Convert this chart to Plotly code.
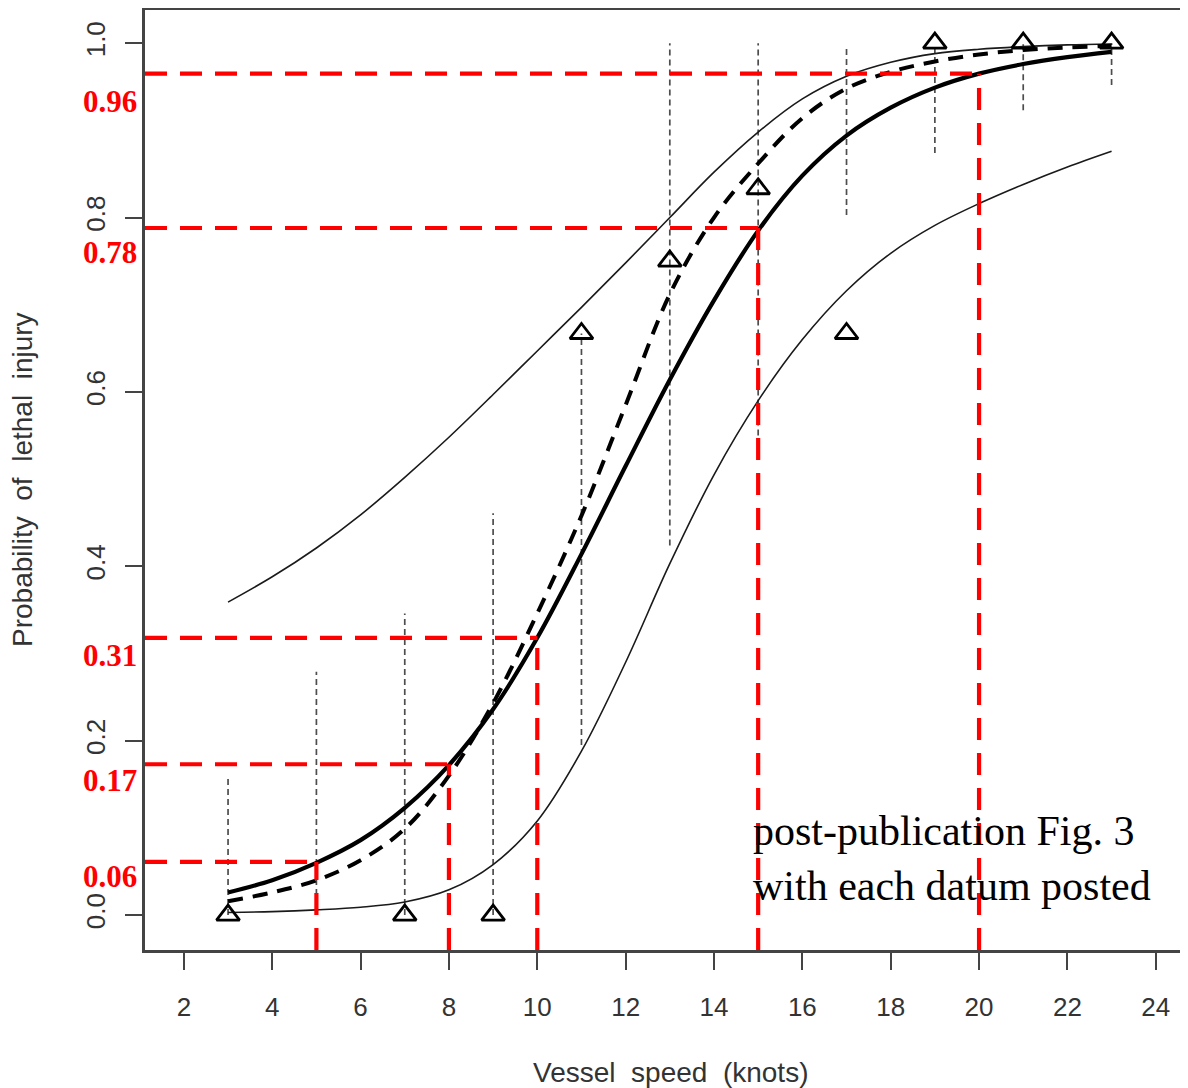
import plotly.graph_objects as go

# ---------------- data ----------------
speed = [3, 4, 5, 6, 7, 8, 9, 10, 11, 12, 13, 14, 15, 16, 17, 18, 19, 20, 21, 22, 23]
fit_solid = [0.026, 0.040, 0.060, 0.086, 0.123, 0.172, 0.236, 0.318, 0.414, 0.515, 0.614,
             0.705, 0.785, 0.848, 0.894, 0.926, 0.949, 0.965, 0.976, 0.984, 0.990]
fit_dashed = [0.016, 0.026, 0.040, 0.063, 0.099, 0.160, 0.243, 0.346, 0.458, 0.585, 0.712,
              0.800, 0.862, 0.914, 0.948, 0.967, 0.979, 0.987, 0.992, 0.995, 0.997]
band_upper = [0.359, 0.388, 0.421, 0.459, 0.502, 0.548, 0.597, 0.647, 0.697, 0.748, 0.800,
              0.852, 0.898, 0.936, 0.962, 0.978, 0.988, 0.993, 0.996, 0.998, 0.999]
band_lower = [0.003, 0.004, 0.006, 0.009, 0.015, 0.029, 0.058, 0.108, 0.188, 0.290, 0.403,
              0.505, 0.590, 0.660, 0.716, 0.759, 0.791, 0.816, 0.838, 0.858, 0.876]

obs_speed = [3, 7, 9, 11, 13, 15, 17, 19, 21, 23]
obs_prop = [0.0, 0.0, 0.0, 0.667, 0.75, 0.833, 0.667, 1.0, 1.0, 1.0]

ci_speed = [3, 5, 7, 9, 11, 13, 15, 17, 19, 21, 23]
ci_low = [0.0, 0.0, 0.0, 0.0, 0.195, 0.424, 0.55, 0.803, 0.874, 0.923, 0.952]
ci_high = [0.158, 0.279, 0.346, 0.461, 0.667, 1.0, 1.0, 0.994, 1.0, 1.0, 1.0]

ref_speed = [5, 8, 10, 15, 20]
ref_prob = [0.061, 0.173, 0.318, 0.788, 0.965]
ref_labels = ["0.06", "0.17", "0.31", "0.78", "0.96"]

x_ticks = [2, 4, 6, 8, 10, 12, 14, 16, 18, 20, 22, 24]
y_ticks = [0.0, 0.2, 0.4, 0.6, 0.8, 1.0]
y_ticktext = ["0.0", "0.2", "0.4", "0.6", "0.8", "1.0"]

X_RANGE = [1.12, 24.73]
Y_RANGE = [-0.04, 1.038]

# label placement below each red line (pixels), layout only
label_shift = [-15, -16, -18, -24, -28]

# page geometry (the page body adds an 8px offset)
PW, PH = 1180, 1080
PLOT_L, PLOT_T, PLOT_B = 145, 10, 950      # in screen pixels
PLOT_W, PLOT_H = 1043, PLOT_B - PLOT_T


def px_x(X):
    return (X - PLOT_L) / PLOT_W


def px_y(Y):
    return (PLOT_B - Y) / PLOT_H


fig = go.Figure()

# per-datum interval lines (grey dotted)
cx, cy = [], []
for s, lo, hi in zip(ci_speed, ci_low, ci_high):
    cx += [s, s, None]
    cy += [lo, hi, None]
fig.add_trace(go.Scatter(x=cx, y=cy, mode="lines",
                         line=dict(color="#4d4d4d", width=1.7, dash="6px,4px"),
                         hoverinfo="skip"))

# confidence band curves
fig.add_trace(go.Scatter(x=speed, y=band_upper, mode="lines", line_shape="spline",
                         line=dict(color="#1a1a1a", width=1.6)))
fig.add_trace(go.Scatter(x=speed, y=band_lower, mode="lines", line_shape="spline",
                         line=dict(color="#1a1a1a", width=1.6)))
# dashed fit
fig.add_trace(go.Scatter(x=speed, y=fit_dashed, mode="lines", line_shape="spline",
                         line=dict(color="black", width=4, dash="15px,10px")))
# solid fit
fig.add_trace(go.Scatter(x=speed, y=fit_solid, mode="lines", line_shape="spline",
                         line=dict(color="black", width=4.2)))

# observed data
fig.add_trace(go.Scatter(x=obs_speed, y=obs_prop, mode="markers",
                         marker=dict(symbol="triangle-up-open", size=20,
                                     color="black", line=dict(color="black", width=2.8))))

# red reference lines
rx, ry = [], []
for s, p in zip(ref_speed, ref_prob):
    rx += [X_RANGE[0], s, None, s, s, None]
    ry += [p, p, None, Y_RANGE[0], p, None]
fig.add_trace(go.Scatter(x=rx, y=ry, mode="lines",
                         line=dict(color="#ff0000", width=4.2, dash="22px,13px"),
                         cliponaxis=False))

annotations = []
for p, lab, sh in zip(ref_prob, ref_labels, label_shift):
    annotations.append(dict(x=px_x(139), xref="paper", y=p, yref="y", yshift=sh,
                            text="<b>" + lab + "</b>", showarrow=False,
                            xanchor="right", yanchor="middle",
                            font=dict(family="Liberation Serif", size=31, color="#ff0000")))

annotations.append(dict(x=px_x(751), xref="paper", y=0.065, yref="y",
                        text="post-publication Fig. 3<br>with each datum posted",
                        showarrow=False, xanchor="left", yanchor="middle", align="left",
                        font=dict(family="Liberation Serif", size=42, color="black")))

annotations.append(dict(x=px_x(670), xref="paper", y=px_y(1072), yref="paper",
                        text="Vessel\u00a0\u00a0speed\u00a0\u00a0(knots)", showarrow=False,
                        xanchor="center", yanchor="middle",
                        font=dict(family="Liberation Sans", size=28, color="#333333")))
annotations.append(dict(x=px_x(22), xref="paper", y=px_y(480), yref="paper",
                        text="Probability\u00a0\u00a0of\u00a0\u00a0lethal\u00a0\u00a0injury",
                        showarrow=False, textangle=-90, xanchor="center", yanchor="middle",
                        font=dict(family="Liberation Sans", size=28, color="#333333")))

axis_common = dict(showgrid=False, zeroline=False, showline=True, linecolor="#444444",
                   linewidth=2.5, ticks="outside", ticklen=17, tickwidth=2,
                   tickcolor="#444444",
                   tickfont=dict(family="Liberation Sans", size=26, color="#333333"))

fig.update_layout(
    width=PW, height=PH,
    margin=dict(l=PLOT_L - 8, r=0, t=PLOT_T - 8, b=PH - (PLOT_B - 8), autoexpand=False),
    paper_bgcolor="white", plot_bgcolor="white",
    showlegend=False,
    xaxis=dict(range=X_RANGE, tickvals=x_ticks, mirror=True,
               ticklabelstandoff=15, **axis_common),
    yaxis=dict(range=Y_RANGE, tickvals=y_ticks, ticktext=y_ticktext, tickangle=-90,
               ticklabelstandoff=10, **axis_common),
    annotations=annotations,
)

fig.write_html("out.html")
